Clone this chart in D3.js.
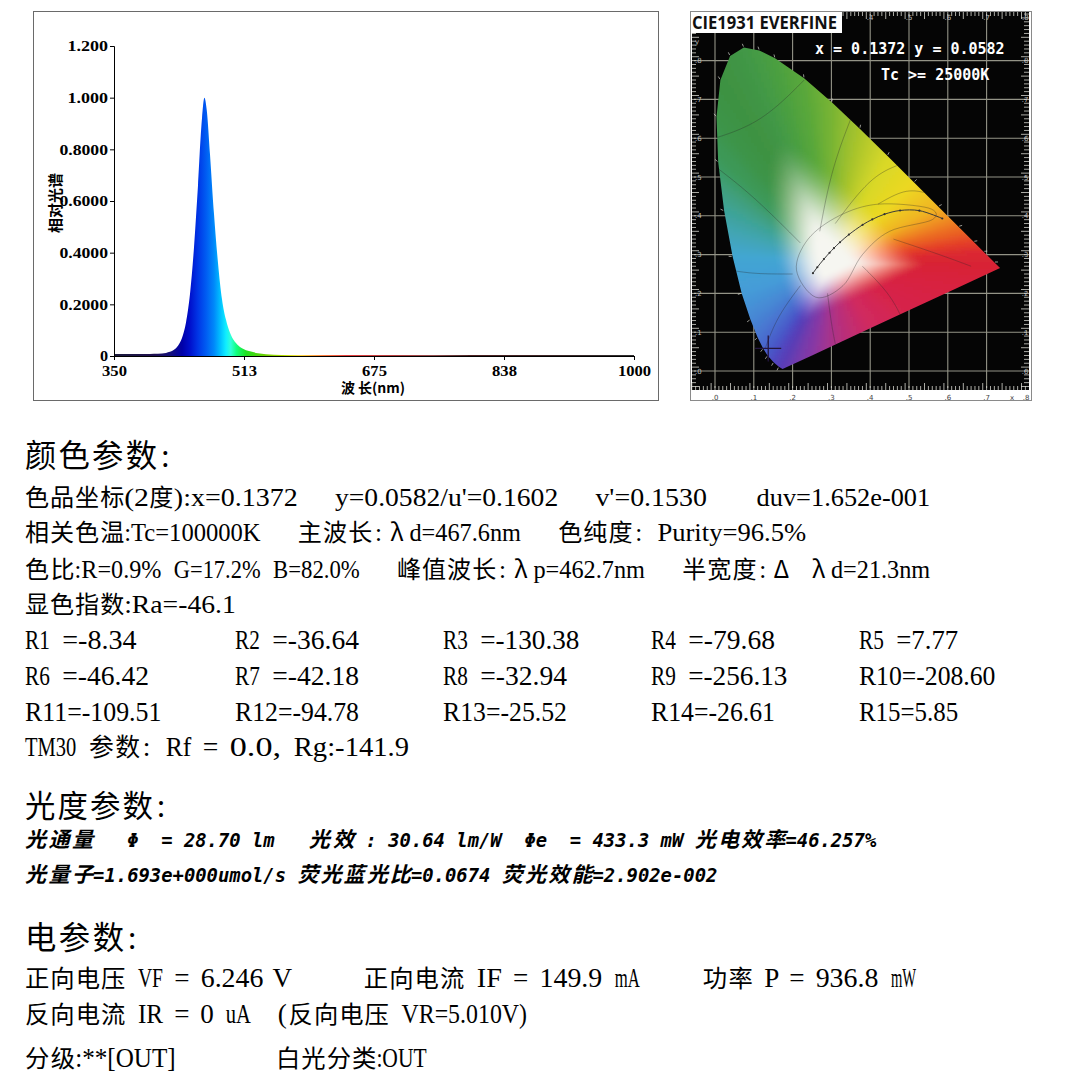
<!DOCTYPE html>
<html><head><meta charset="utf-8">
<script src="https://cdn.jsdelivr.net/npm/d3@7"></script>
<style>html,body{margin:0;padding:0;background:#fff}svg{display:block}</style>
</head><body>
<svg id="c" width="1077" height="1077"></svg>
<script>
// ---------------- DATA ----------------
// relative spectrum
const wavelengths = [350,360,370,380,390,400,410,415,420,425,430,435,440,445,450,455,460,463,466,470,475,480,485,490,495,500,505,510,520,530,540,560,600,650,700,800,900,1000];
const intensity   = [0.008,0.008,0.008,0.008,0.008,0.009,0.010,0.012,0.016,0.024,0.040,0.070,0.130,0.240,0.420,0.660,0.920,1.000,0.950,0.780,0.550,0.360,0.220,0.140,0.090,0.060,0.042,0.030,0.018,0.011,0.007,0.004,0.003,0.003,0.003,0.004,0.004,0.004];
const yTicks = [0,0.2,0.4,0.6,0.8,1.0,1.2];
const yTickLabels = ["0","0.2000","0.4000","0.6000","0.8000","1.000","1.200"];
const xTicks = [350,512.5,675,837.5,1000];
const xTickLabels = ["350","513","675","838","1000"];
const xAxisTitle = "波 长(nm)";
const yAxisTitle = "相对光谱";
// wavelength colour ramp of the fill
const gradWl = [350,400,420,435,445,455,465,475,483,490,496,503,515,540,570,585,610,640,700,780,1000];
const gradColors = ["#1a1a3a","#201050","#14107a","#0000a8","#0010cc","#0036e6","#005cf2","#0088fa","#00c0ff","#10eeff","#30ffd8","#10ff80","#20e020","#70d000","#d0e000","#ffc800","#ff5a00","#e00000","#a00000","#502020","#303030"];

// CIE 1931 chart
const cieTitle = "CIE1931 EVERFINE";
const cieXY = "x = 0.1372 y = 0.0582";
const cieTc = "Tc >= 25000K";
const measuredPoint = [0.1372, 0.0582];
const whitePt = [0.30, 0.28];
const locusX = [0.1741,0.1644,0.1510,0.1355,0.1241,0.1096,0.0913,0.0687,0.0454,0.0235,0.0082,0.0039,0.0139,0.0389,0.0743,0.1142,0.1547,0.2296,0.3016,0.3731,0.4441,0.5125,0.5752,0.6270,0.6658,0.6915,0.7190,0.7347,0.6200,0.5000,0.4000,0.3200,0.2500];
const locusY = [0.0050,0.0109,0.0227,0.0399,0.0578,0.0868,0.1327,0.2007,0.2950,0.4127,0.5384,0.6548,0.7502,0.8120,0.8338,0.8262,0.8059,0.7543,0.6923,0.6245,0.5547,0.4866,0.4242,0.3725,0.3340,0.3083,0.2809,0.2653,0.2118,0.1563,0.1099,0.0727,0.0402];
const locusColors = ["#5b3db5","#5840b8","#5048c0","#4a58c8","#4a64cc","#4874d0","#4688d4","#449cd8","#42a6d2","#3ea49a","#3c9a5c","#3c9448","#3e9242","#409444","#429846","#469c44","#4ca040","#5aa83a","#78b434","#a8c42c","#d8d828","#ecd820","#f0b420","#ec7020","#e44028","#dc2a30","#d82434","#d82236","#d82040","#d6244a","#d02a60","#b43080","#8838a4"];
const planckX = [0.2525,0.2637,0.2807,0.2952,0.3064,0.3221,0.3451,0.3805,0.4053,0.4369,0.4770,0.5267,0.5857];
const planckY = [0.2522,0.2674,0.2884,0.3048,0.3166,0.3318,0.3516,0.3768,0.3907,0.4041,0.4137,0.4133,0.3931];
const whiteRegionX = [0.21,0.24,0.32,0.42,0.55,0.56,0.45,0.38,0.33,0.26];
const whiteRegionY = [0.26,0.34,0.40,0.43,0.42,0.39,0.36,0.30,0.22,0.19];
const regionLines = [
  [[0.22,0.33],[0.10,0.45],[0.01,0.52]],
  [[0.27,0.36],[0.30,0.52],[0.35,0.65]],
  [[0.31,0.38],[0.40,0.50],[0.47,0.53]],
  [[0.42,0.43],[0.49,0.47],[0.54,0.46]],
  [[0.20,0.25],[0.10,0.25],[0.04,0.26]],
  [[0.22,0.22],[0.16,0.14],[0.13,0.06]],
  [[0.29,0.20],[0.30,0.12],[0.31,0.07]],
  [[0.38,0.27],[0.45,0.20],[0.48,0.14]],
  [[0.46,0.34],[0.58,0.30],[0.66,0.27]],
  [[0.00,0.60],[0.12,0.64],[0.23,0.75]]
];
const cieAxisTicks = [0,0.1,0.2,0.3,0.4,0.5,0.6,0.7,0.8];
const cieAxisLabels = [".0",".1",".2",".3",".4",".5",".6",".7",".8"];

// text report
const headColor = "颜色参数:";
const colorLines = [
  "色品坐标(2度):x=0.1372   y=0.0582/u'=0.1602   v'=0.1530    duv=1.652e-001",
  "相关色温:Tc=100000K   主波长:λd=467.6nm   色纯度: Purity=96.5%",
  "色比:R=0.9% G=17.2% B=82.0%   峰值波长:λp=462.7nm   半宽度:Δ λd=21.3nm",
  "显色指数:Ra=-46.1"
];
const riNames  = ["R1 ","R2 ","R3 ","R4 ","R5 ","R6 ","R7 ","R8 ","R9 ","R10","R11","R12","R13","R14","R15"];
const riValues = ["-8.34","-36.64","-130.38","-79.68","7.77","-46.42","-42.18","-32.94","-256.13","-208.60","-109.51","-94.78","-25.52","-26.61","5.85"];
const tm30Line = "TM30 参数: Rf = 0.0, Rg:-141.9";
const headPhoto = "光度参数:";
const photoLines = [
  "光通量   Φ  = 28.70 lm   光效 : 30.64 lm/W  Φe  = 433.3 mW 光电效率=46.257%",
  "光量子=1.693e+000umol/s 荧光蓝光比=0.0674 荧光效能=2.902e-002"
];
const headElec = "电参数:";
const elecLines = [
  "正向电压 VF = 6.246 V      正向电流 IF = 149.9 mA     功率 P = 936.8 mW",
  "反向电流 IR = 0 uA  (反向电压 VR=5.010V)"
];
const gradeLine = "分级:**[OUT]        白光分类:OUT";

// ---------------- DRAWING ----------------
const svg = d3.select("#c");
const defs = svg.append("defs");
const CJK = "'Noto Sans CJK SC'";
const SERIF = "'Liberation Serif','DejaVu Serif',serif";
const MONO = "'DejaVu Sans Mono','Liberation Mono',monospace";

// ===== spectrum panel =====
svg.append("rect").attr("x",33.5).attr("y",11.5).attr("width",625).attr("height",389)
  .attr("fill","#fff").attr("stroke","#6a6a6a").attr("stroke-width",1);
const xS = d3.scaleLinear().domain([350,1000]).range([114,634]);
const yS = d3.scaleLinear().domain([0,1.2]).range([356,46]);
const sg = defs.append("linearGradient").attr("id","specGrad").attr("gradientUnits","userSpaceOnUse")
  .attr("x1",xS(350)).attr("x2",xS(1000)).attr("y1",0).attr("y2",0);
sg.selectAll("stop").data(gradWl).join("stop")
  .attr("offset",d=>(d-350)/650).attr("stop-color",(d,i)=>gradColors[i]);
const spec = wavelengths.map((w,i)=>({w,v:intensity[i]}));
svg.append("path").datum(spec)
  .attr("d",d3.area().x(d=>xS(d.w)).y0(yS(0)).y1(d=>yS(d.v)).curve(d3.curveMonotoneX))
  .attr("fill","url(#specGrad)");

const gy = svg.append("g").attr("transform",`translate(${xS(350)},0)`)
  .call(d3.axisLeft(yS).tickValues(yTicks).tickFormat((d,i)=>yTickLabels[i]).tickSize(4).tickPadding(2));
const gx = svg.append("g").attr("transform",`translate(0,${yS(0)})`)
  .call(d3.axisBottom(xS).tickValues(xTicks).tickFormat((d,i)=>xTickLabels[i]).tickSize(4).tickPadding(5));
[gy,gx].forEach(g=>{
  g.select(".domain").attr("stroke","#000").attr("stroke-width",1);
  g.selectAll(".tick line").attr("stroke","#000");
  g.selectAll("text").attr("font-family",SERIF).attr("font-weight","bold").attr("font-size",15).attr("fill","#000");
});
gy.selectAll("text").attr("textLength",(d,i)=>yTickLabels[i].length*8.1).attr("lengthAdjust","spacingAndGlyphs");
gx.selectAll("text").attr("textLength",(d,i)=>xTickLabels[i].length*8.3).attr("lengthAdjust","spacingAndGlyphs");
svg.append("text").attr("x",373).attr("y",387).attr("text-anchor","middle").attr("dominant-baseline","central")
  .attr("font-family",CJK).attr("font-weight","bold").attr("font-size",14).attr("fill","#000").text(xAxisTitle);
svg.append("text").attr("transform","translate(54,203) rotate(-90)").attr("text-anchor","middle").attr("dominant-baseline","central")
  .attr("font-family",CJK).attr("font-weight","bold").attr("font-size",15).attr("fill","#000").text(yAxisTitle);

// ===== CIE panel =====
const cx = d3.scaleLinear().domain([0,0.8]).range([715,1025.4]);
const cy = d3.scaleLinear().domain([0,0.8]).range([371,60.6]);
defs.append("clipPath").attr("id","panelClip").append("rect").attr("x",691).attr("y",12).attr("width",340).attr("height",388);
const cie = svg.append("g").attr("clip-path","url(#panelClip)");
cie.append("rect").attr("x",690).attr("y",11).attr("width",342).attr("height",390).attr("fill","#fff");
cie.append("rect").attr("x",692).attr("y",12).attr("width",337).attr("height",378).attr("fill","#050505");

// grid
const grid = cie.append("g").attr("stroke","#b8b8a8").attr("stroke-width",1.1).attr("opacity",0.8);
grid.selectAll(".vx").data(cieAxisTicks.slice(0,8)).join("line")
  .attr("x1",d=>cx(d)).attr("x2",d=>cx(d)).attr("y1",14).attr("y2",388);
grid.selectAll(".hy").data(cieAxisTicks).join("line").attr("class","hy")
  .attr("x1",694).attr("x2",1027).attr("y1",d=>cy(d)).attr("y2",d=>cy(d));
// ruler ticks
const ruler = cie.append("g").attr("stroke","#d8d8d0").attr("stroke-width",0.8);
const rx = d3.range(-6,81).map(k=>k/100), ry = d3.range(-4,95).map(k=>k/100);
ruler.selectAll(".rb").data(rx).join("line").attr("class","rb").attr("x1",d=>cx(d)).attr("x2",d=>cx(d)).attr("y1",(d,i)=>i%5?386:383).attr("y2",390);
ruler.selectAll(".rt").data(rx).join("line").attr("class","rt").attr("x1",d=>cx(d)).attr("x2",d=>cx(d)).attr("y1",12).attr("y2",(d,i)=>i%5?16:19);
ruler.selectAll(".rl").data(ry).join("line").attr("class","rl").attr("y1",d=>cy(d)).attr("y2",d=>cy(d)).attr("x1",692).attr("x2",(d,i)=>i%5?696:699);
ruler.selectAll(".rr").data(ry).join("line").attr("class","rr").attr("y1",d=>cy(d)).attr("y2",d=>cy(d)).attr("x1",(d,i)=>i%5?1024:1021).attr("x2",1029);

// horseshoe: smooth colour field (white point -> locus colours)
const n = locusX.length;
const P = locusX.map((v,i)=>[cx(v),cy(locusY[i])]);
const Wp = [cx(whitePt[0]),cy(whitePt[1])];
defs.append("clipPath").attr("id","horseClip").append("path").attr("d",d3.line()(P)+"Z");
const blur = defs.append("filter").attr("id","soft").attr("x","-5%").attr("y","-5%").attr("width","110%").attr("height","110%");
blur.append("feGaussianBlur").attr("stdDeviation",1.6);
const Pext = P.map(p=>[Wp[0]+(p[0]-Wp[0])*1.06, Wp[1]+(p[1]-Wp[1])*1.06]);
const smooth = (a,b,t)=>{const u=Math.max(0,Math.min(1,(t-a)/(b-a)));return u*u*(3-2*u);};
function fieldColor(px,py){
  const vx=px-Wp[0], vy=py-Wp[1];
  for(let k=0;k<n;k++){
    const a=P[k], b=P[(k+1)%n];
    const ex=b[0]-a[0], ey=b[1]-a[1];
    const den = vx*ey - vy*ex;
    if(Math.abs(den)<1e-9) continue;
    const wx=a[0]-Wp[0], wy=a[1]-Wp[1];
    const s = (wx*ey - wy*ex)/den;
    const u = (wx*vy - wy*vx)/den;
    if(s>0 && u>=-1e-6 && u<=1+1e-6){
      const r = 1/s;
      const lc = d3.interpolateLab(locusColors[k],locusColors[(k+1)%n])(Math.max(0,Math.min(1,u)));
      return d3.interpolateLab("#f6f6f1",lc)(smooth(0.1,0.58,r));
    }
  }
  return "#f6f6f1";
}
const cell = 3;
const cells = [];
const bx = d3.extent(Pext,d=>d[0]), by = d3.extent(Pext,d=>d[1]);
for(let y=by[0]; y<=by[1]; y+=cell){
  for(let x=bx[0]; x<=bx[1]; x+=cell){
    const c=[x+cell/2,y+cell/2];
    if(d3.polygonContains(Pext,c)) cells.push({x,y,col:fieldColor(c[0],c[1])});
  }
}
const horse = cie.append("g").attr("clip-path","url(#horseClip)");
horse.append("g").attr("filter","url(#soft)").selectAll("rect").data(cells).join("rect")
  .attr("x",d=>d.x).attr("y",d=>d.y).attr("width",cell+0.4).attr("height",cell+0.4).attr("fill",d=>d.col);
// interior lines
const inner = horse.append("g").attr("fill","none").attr("stroke","#2a2a2a").attr("stroke-opacity",0.4).attr("stroke-width",0.8);
regionLines.forEach(l=>inner.append("path").attr("d",d3.line().x(d=>cx(d[0])).y(d=>cy(d[1])).curve(d3.curveBasis)(l)));
inner.append("path").attr("d",d3.line().x(d=>cx(d)).y((d,i)=>cy(whiteRegionY[i])).curve(d3.curveCardinalClosed)(whiteRegionX));
horse.append("path").attr("d",d3.line().x(d=>cx(d)).y((d,i)=>cy(planckY[i])).curve(d3.curveCatmullRom)(planckX))
  .attr("fill","none").attr("stroke","#3a3a3a").attr("stroke-width",1);
horse.selectAll(".pd").data(planckX).join("circle").attr("class","pd").attr("cx",d=>cx(d)).attr("cy",(d,i)=>cy(planckY[i])).attr("r",1.1).attr("fill","#333");
// locus tick marks (white, outward)
const tk = cie.append("g").attr("stroke","#e0e0d8").attr("stroke-width",0.9).attr("opacity",0.75);
P.slice(1,27).forEach(p=>{
  const dx=p[0]-Wp[0], dy=p[1]-Wp[1], L=Math.hypot(dx,dy);
  tk.append("line").attr("x1",p[0]+dx/L*1).attr("y1",p[1]+dy/L*1).attr("x2",p[0]+dx/L*4).attr("y2",p[1]+dy/L*4);
});
// measured point cross
const mp=[cx(measuredPoint[0]),cy(measuredPoint[1])];
cie.append("path").attr("d",`M${mp[0]-13},${mp[1]}H${mp[0]+13}M${mp[0]},${mp[1]-13}V${mp[1]+13}`)
  .attr("stroke","#241640").attr("stroke-width",1.3);
// axis labels
const lab = cie.append("g").attr("font-family","'DejaVu Sans',sans-serif").attr("font-size",7);
lab.selectAll(".bl").data(cieAxisTicks.slice(0,8)).join("text").attr("class","bl").attr("x",d=>cx(d)).attr("y",400)
  .attr("text-anchor","middle").attr("fill","#444").text((d,i)=>cieAxisLabels[i]);
lab.append("text").attr("x",1012).attr("y",400).attr("text-anchor","middle").attr("fill","#444").text("x");
lab.append("text").attr("x",1026).attr("y",400).attr("text-anchor","middle").attr("fill","#444").text(".8");
lab.selectAll(".ll").data(cieAxisTicks).join("text").attr("class","ll").attr("x",695).attr("y",d=>cy(d)+2.5)
  .attr("fill","#bbb").text((d,i)=>cieAxisLabels[i]);
lab.append("text").attr("x",695).attr("y",44).attr("fill","#bbb").text("y");
lab.selectAll(".rl2").data(cieAxisTicks).join("text").attr("class","rl2").attr("x",1025).attr("y",d=>cy(d)+2.5)
  .attr("text-anchor","middle").attr("fill","#bbb").text((d,i)=>cieAxisLabels[i]);
lab.selectAll(".tl").data(cieAxisTicks.slice(4)).join("text").attr("class","tl").attr("x",d=>cx(d)).attr("y",20)
  .attr("text-anchor","middle").attr("fill","#bbb").text((d,i)=>cieAxisLabels[i+4]);
// title & readouts
cie.append("rect").attr("x",690).attr("y",11).attr("width",152).attr("height",22).attr("fill","#fff");
cie.append("text").attr("x",692).attr("y",29).attr("font-family","'Open Sans',sans-serif").attr("font-weight","bold")
  .attr("font-size",18).attr("textLength",145).attr("lengthAdjust","spacingAndGlyphs").attr("fill","#111").text(cieTitle);
cie.append("text").attr("x",815).attr("y",53.5).attr("font-family",MONO).attr("font-weight","bold").attr("font-size",15)
  .attr("fill","#fff").style("white-space","pre").text(cieXY);
cie.append("text").attr("x",881).attr("y",79.5).attr("font-family",MONO).attr("font-weight","bold").attr("font-size",15)
  .attr("fill","#fff").style("white-space","pre").text(cieTc);
svg.append("rect").attr("x",690.5).attr("y",11.5).attr("width",341).attr("height",389).attr("fill","none").attr("stroke","#8a8a8a");

// ===== text report =====
function isFull(ch,greek){
  const c = ch.codePointAt(0);
  if((c>=0x2E80&&c<=0x9FFF)||(c>=0xFF00&&c<=0xFFEF)||(c>=0x3000&&c<=0x303F)) return true;
  if(greek && (ch==="λ"||ch==="Δ")) return true;
  return false;
}
function drawText(str,x0,yc,S,o){
  o = o||{};
  const g = svg.append("g").attr("fill","#000");
  const base = yc + 0.36*S;
  const chars = Array.from(str);
  let x=x0, i=0;
  while(i<chars.length){
    const ch=chars[i];
    if(ch===" "){x+=S/2;i++;continue;}
    const full=isFull(ch,o.greek!==false);
    let j=i; while(j<chars.length&&chars[j]!==" "&&isFull(chars[j],o.greek!==false)===full) j++;
    const t=chars.slice(i,j).join("");
    const w=full?(j-i)*S:(j-i)*S/2;
    const el=g.append("text").attr("y",base).text(t)
      .attr("font-weight",o.weight||"normal").attr("font-style",o.style||"normal");
    if(full){
      el.attr("font-family",CJK).attr("font-size",S*(o.cjkK||0.97));
    } else {
      el.attr("font-family",o.latin||SERIF).attr("font-size",S*(o.latK||1.02));
    }
    if(j-i===1){ el.attr("x",x+w/2).attr("text-anchor","middle"); }
    else { el.attr("x",x).attr("textLength",w).attr("lengthAdjust",full?"spacing":"spacingAndGlyphs"); }
    x+=w; i=j;
  }
}
const L = 25;
drawText(headColor,L,455,33,{cjkK:0.95,latK:1.0});
const colorY=[497,532,569,604];
colorLines.forEach((s,i)=>drawText(s,L,colorY[i],24.8));
const colX=[25,235,443,651,859], rowY=[640,676,712];
riNames.forEach((nm,i)=>drawText(nm+"="+riValues[i],colX[i%5],rowY[Math.floor(i/5)],24.8,{latK:1.08}));
drawText(tm30Line,L,747,25.6,{latK:1.08});
drawText(headPhoto,L,805,32,{cjkK:0.95});
const photoY=[839,874];
photoLines.forEach((s,i)=>drawText(s,L,photoY[i],22.7,{weight:"bold",style:"italic",latin:MONO,latK:0.83,cjkK:0.93,greek:false}));
drawText(headElec,L,937,33,{cjkK:0.95});
const elecY=[978,1014];
elecLines.forEach((s,i)=>drawText(s,L,elecY[i],25.1,{latK:1.08}));
drawText(gradeLine,L,1058,25.1,{latK:1.08});
</script>
</body></html>
